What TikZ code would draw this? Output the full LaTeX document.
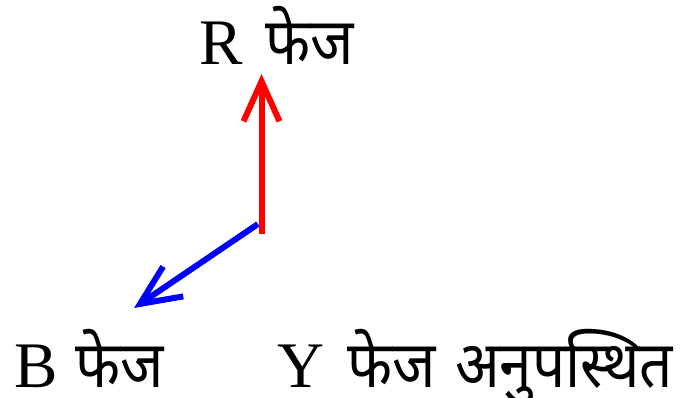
\documentclass[tikz,border=0pt]{standalone}
\usepackage{fontspec}
\setmainfont{Liberation Serif}
\newfontfamily\deva[Script=Devanagari, FakeStretch=0.9]{Noto Sans}
\usetikzlibrary{arrows.meta}
\tikzset{
  lbl/.style={inner sep=0pt, anchor=base west, text depth=0pt, font=\fontsize{65}{70}\selectfont},
  phasor/.style={line width=6pt, -{Straight Barb[length=40pt,width=36pt,line cap=butt,line join=miter]}},
}
\begin{document}
\begin{tikzpicture}[x=1pt,y=-1pt]
\useasboundingbox (0,0) rectangle (686,398);
\coordinate (o) at (261.5,234);
\coordinate (ob) at (258,224);
\coordinate (rt) at (261.5,74);
\coordinate (bt) at (134,308);
\draw[phasor, red] (o) -- (rt);
\draw[phasor, blue] (ob) -- (bt);
\node[lbl] (r) at (199,65) {\makebox[66pt][l]{R}{\deva फेज}};
\node[lbl] (b) at (14,387) {\makebox[61pt][l]{B}{\deva फेज}};
\node[lbl] (y) at (277,387) {\makebox[70pt][l]{Y}\makebox[108pt][l]{\deva फेज}{\deva अनुपस्थित}};
\end{tikzpicture}
\end{document}
